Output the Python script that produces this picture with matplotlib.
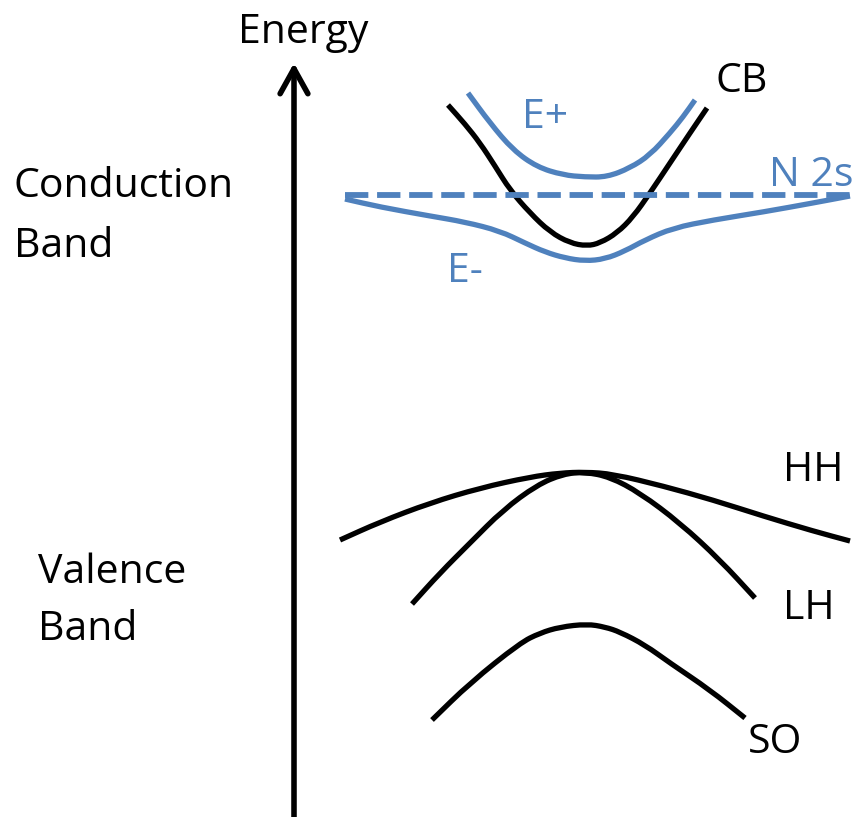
import numpy as np
import matplotlib.pyplot as plt
from matplotlib.path import Path
from matplotlib.patches import PathPatch

# Band anticrossing sketch: host CB splits into E+ / E- around the N 2s level
# k in arbitrary units (0 = zone centre), E in arbitrary units (0 = valence band top)

cb_k = [-1.37, -1.20, -1.05, -0.90, -0.75, -0.55, -0.35, -0.15, 0.02, 0.15, 0.32, 0.48, 0.65, 0.85, 1.05, 1.22]
cb_E = [3.67, 3.48, 3.29, 3.06, 2.82, 2.59, 2.40, 2.29, 2.26, 2.29, 2.39, 2.55, 2.79, 3.09, 3.39, 3.64]

ep_k = [-1.17, -0.95, -0.72, -0.48, -0.22, 0.00, 0.22, 0.45, 0.65, 0.85, 0.98, 1.10]
ep_E = [3.79, 3.49, 3.22, 3.05, 2.97, 2.95, 2.95, 3.04, 3.17, 3.39, 3.55, 3.72]

em_k = [-2.40, -2.05, -1.55, -1.20, -0.85, -0.60, -0.40, -0.20, 0.00, 0.20, 0.40, 0.60, 0.88, 1.28, 1.78, 2.28, 2.65]
em_E = [2.73, 2.65, 2.56, 2.50, 2.41, 2.29, 2.20, 2.14, 2.11, 2.13, 2.21, 2.32, 2.44, 2.52, 2.60, 2.69, 2.76]

n2s_E = 2.77
n2s_k = [-2.40, 2.65]

hh_k = [-2.45, -2.05, -1.55, -1.05, -0.55, -0.25, 0.00, 0.28, 0.78, 1.28, 1.78, 2.28, 2.65]
hh_E = [-0.68, -0.50, -0.31, -0.16, -0.05, -0.01, 0.00, -0.02, -0.14, -0.28, -0.44, -0.59, -0.69]

lh_k = [-1.73, -1.45, -1.15, -0.82, -0.48, -0.22, 0.00, 0.25, 0.55, 0.95, 1.35, 1.70]
lh_E = [-1.32, -1.01, -0.71, -0.38, -0.13, -0.02, 0.00, -0.05, -0.21, -0.51, -0.88, -1.26]

so_k = [-1.53, -1.15, -0.65, -0.45, -0.25, 0.02, 0.20, 0.35, 0.60, 0.85, 1.25, 1.60]
so_E = [-2.48, -2.11, -1.71, -1.61, -1.55, -1.52, -1.55, -1.60, -1.73, -1.91, -2.18, -2.46]

blue = "#4F81BD"
lw = 3.8

plt.rcParams["font.family"] = ["Open Sans", "DejaVu Sans"]


def band(ax, k, E, color):
    # rounded polyline: quadratic Bezier through segment midpoints
    pts = np.column_stack([k, E])
    mids = (pts[:-1] + pts[1:]) / 2
    verts = [pts[0], mids[0]]
    codes = [Path.MOVETO, Path.LINETO]
    for i in range(1, len(pts) - 1):
        verts += [pts[i], mids[i]]
        codes += [Path.CURVE3, Path.CURVE3]
    verts.append(pts[-1])
    codes.append(Path.LINETO)
    ax.add_patch(PathPatch(Path(verts, codes), fill=False, edgecolor=color,
                           lw=lw, capstyle="butt", joinstyle="round"))


fig = plt.figure(figsize=(8.58, 8.17), dpi=100)
ax = fig.add_axes([0, 0, 1, 1])
ax.set_xlim(-5.85, 2.73)
ax.set_ylim(-3.45, 4.72)
ax.axis("off")

band(ax, cb_k, cb_E, "black")
band(ax, hh_k, hh_E, "black")
band(ax, lh_k, lh_E, "black")
band(ax, so_k, so_E, "black")
band(ax, ep_k, ep_E, blue)
band(ax, em_k, em_E, blue)
ax.plot(n2s_k, [n2s_E, n2s_E], color=blue, lw=4.2, dashes=(4, 1.5))

# energy axis
ax.annotate("", xy=(-2.91, 4.09), xytext=(-2.91, -3.6),
            arrowprops=dict(arrowstyle="->,head_length=0.9,head_width=0.5",
                            lw=4, color="black", mutation_scale=20,
                            shrinkA=0, shrinkB=0))

fs = 29.5
ax.text(-2.82, 4.29, "Energy", fontsize=fs, ha="center", va="baseline")
ax.text(-5.71, 2.75, "Conduction", fontsize=fs, va="baseline")
ax.text(-5.71, 2.15, "Band", fontsize=fs, va="baseline")
ax.text(-5.47, -1.11, "Valence", fontsize=fs, va="baseline")
ax.text(-5.47, -1.68, "Band", fontsize=fs, va="baseline")

ax.text(1.31, 3.80, "CB", fontsize=fs, va="baseline")
ax.text(-0.63, 3.44, "E+", fontsize=fs, va="baseline", color=blue)
ax.text(1.84, 2.86, "N 2s", fontsize=fs, va="baseline", color=blue)
ax.text(-1.38, 1.90, "E-", fontsize=fs, va="baseline", color=blue)
ax.text(1.98, -0.09, "HH", fontsize=fs, va="baseline")
ax.text(1.98, -1.47, "LH", fontsize=fs, va="baseline")
ax.text(1.63, -2.81, "SO", fontsize=fs, va="baseline")

fig.savefig("out.png", dpi=100)
